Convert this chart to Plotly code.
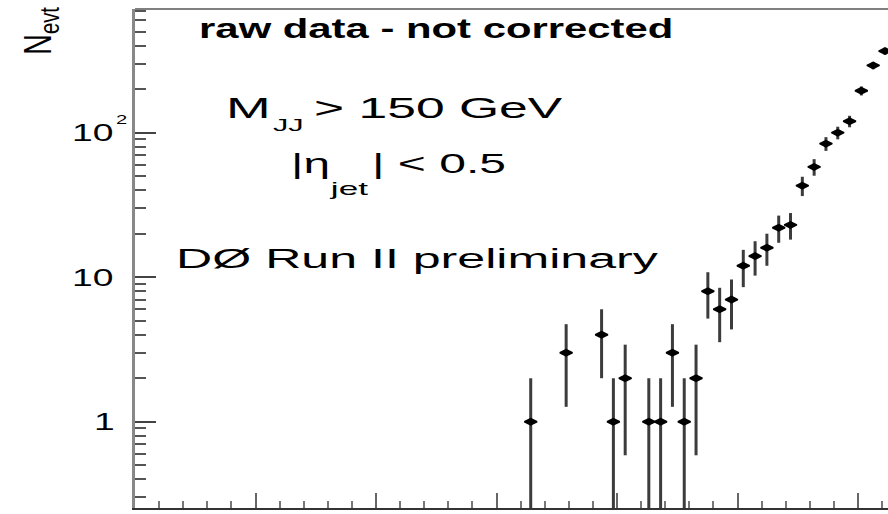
import json
import math
import plotly.graph_objects as go

# Raw dijet event counts per bin (bin centres in axis units)
bin_centres = [3.284, 3.578, 3.872, 3.970, 4.068, 4.264, 4.362, 4.460, 4.558, 4.656,
               4.754, 4.852, 4.950, 5.048, 5.146, 5.244, 5.342, 5.440, 5.538, 5.636,
               5.734, 5.832, 5.930, 6.028, 6.126, 6.224]
n_events = [1, 3, 4, 1, 2, 1, 1, 3, 1, 2,
            8, 6, 7, 12, 14, 16, 22, 23, 43, 58,
            84, 100, 120, 195, 292, 367]
# Poisson uncertainty on each count
stat_err = [math.sqrt(n) for n in n_events]

# y axis decades and their labels (base + exponent)
y_tick_vals = [1, 10, 100]
y_tick_base = ["1", "10", "10"]
y_tick_exp = ["", "", "2"]
y_minor_vals = [0.3, 0.4, 0.5, 0.6, 0.7, 0.8, 0.9,
                2, 3, 4, 5, 6, 7, 8, 9,
                20, 30, 40, 50, 60, 70, 80, 90,
                200, 300, 400, 500, 600, 700]

W, H = 888, 514
ML, MR, MT, MB = 135, 0, 9, 6
FONT = "Liberation Sans"


def xp(px):
    return (px - ML) / (W - ML - MR)


def yp(py):
    return (H - MB - py) / (H - MT - MB)


fig = go.Figure()
fig.add_trace(go.Scatter(
    x=bin_centres, y=n_events, mode="markers",
    marker=dict(symbol="diamond-wide", size=9, color="black",
                line=dict(color="black", width=1.5)),
    error_y=dict(type="data", array=stat_err, symmetric=True,
                 thickness=3, width=0, color="#3c3c3c"),
    showlegend=False,
))

# text pieces: (text, left px, vertical centre px, size, horizontal stretch)
labels = [
    ("<b>raw data - not corrected</b>", 197, 29, 27, 1.55),
    ("M", 224, 108.3, 29, 1.85),
    ("JJ", 270.5, 125.8, 17, 1.8),
    ("> 150 GeV", 312, 108.3, 29, 1.78),
    ("|\u03b7", 289, 164, 27, 1.77),
    ("jet", 327, 188.4, 19, 1.85),
    ("| < 0.5", 370, 164, 27, 1.78),
    ("D\u00d8 Run II preliminary", 174, 258.6, 28, 1.79),
]

annotations = []
stretch = []
for text, left, yc, size, s in labels:
    annotations.append(dict(
        text=text, x=xp(left), y=yp(yc), xref="paper", yref="paper",
        xanchor="left", yanchor="middle", showarrow=False,
        font=dict(family=FONT, size=size, color="black"),
    ))
    stretch.append([s, "l"])

# y tick labels
tick_left = {"1": 92, "10": 70}
for v, base, exp in zip(y_tick_vals, y_tick_base, y_tick_exp):
    annotations.append(dict(
        text=base, x=xp(tick_left[base]), y=math.log10(v), xref="paper", yref="y",
        xanchor="left", yanchor="middle", showarrow=False,
        font=dict(family=FONT, size=24, color="black"),
    ))
    stretch.append([1.55, "l"])
    if exp:
        annotations.append(dict(
            text=exp, x=xp(114), y=math.log10(v), yshift=13, xref="paper", yref="y",
            xanchor="left", yanchor="middle", showarrow=False,
            font=dict(family=FONT, size=13, color="black"),
        ))
        stretch.append([1.55, "l"])

# rotated y title
annotations.append(dict(
    text="N<sub>evt</sub>", x=xp(40.5), y=yp(31.5), xref="paper", yref="paper",
    xanchor="center", yanchor="middle", showarrow=False, textangle=-90,
    font=dict(family=FONT, size=29, color="black"),
))
stretch.append([1.35, "c"])

fig.update_layout(
    width=W, height=H,
    margin=dict(l=ML, r=MR, t=MT, b=MB, pad=0),
    paper_bgcolor="white", plot_bgcolor="white",
    annotations=annotations,
    shapes=[dict(type="line", xref="paper", yref="paper", x0=0, x1=1, y0=1, y1=1,
                 line=dict(color="#808080", width=2))],
    xaxis=dict(
        range=[0, (W - ML - MR) / 120.5], showgrid=False, zeroline=False,
        showline=True, linecolor="#333333", linewidth=2,
        tickmode="linear", tick0=0, dtick=1, ticks="inside", ticklen=15,
        tickwidth=2, tickcolor="#666666", showticklabels=False,
        minor=dict(dtick=0.2, tick0=0, ticks="inside", ticklen=7, tickwidth=2,
                   tickcolor="#777777", showgrid=False),
    ),
    yaxis=dict(
        type="log", range=[-0.597, 2.856], showgrid=False, zeroline=False,
        showline=True, linecolor="#888888", linewidth=3,
        tickmode="array", tickvals=y_tick_vals, ticks="inside", ticklen=21,
        tickwidth=2, tickcolor="#444444", showticklabels=False,
        minor=dict(tickmode="array", tickvals=y_minor_vals, ticks="inside",
                   ticklen=11, tickwidth=2, tickcolor="#555555", showgrid=False),
    ),
)

# widen the lettering horizontally, keeping each label's anchor edge in place
post_js = """
var gd = document.getElementById('{plot_id}');
var S = """ + json.dumps(stretch) + """;
gd.querySelectorAll('g.annotation').forEach(function (g) {
  var spec = S[+g.getAttribute('data-index')];
  if (!spec) return;
  var t = g.querySelector('text.annotation-text');
  var r = t.getBoundingClientRect();
  var m = g.parentNode.getScreenCTM();
  var ax = spec[1] === 'c' ? (r.left + r.right) / 2 : r.left;
  var p = ax - m.e;
  g.setAttribute('transform', 'translate(' + p + ',0) scale(' + spec[0] + ',1) translate(' + (-p) + ',0)');
});
"""

fig.write_html("out.html", config={"displayModeBar": False}, post_script=post_js)
